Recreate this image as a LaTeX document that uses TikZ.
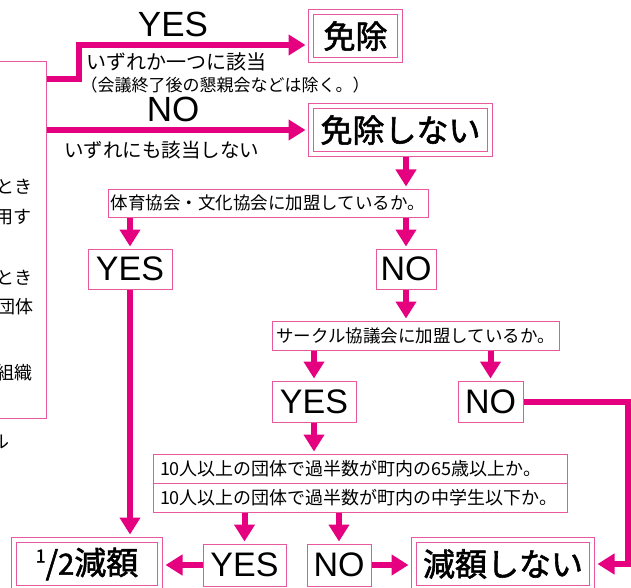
\documentclass[tikz,border=0pt]{standalone}
\usepackage{fontspec}
\setmainfont{Noto Sans CJK JP}
\newfontfamily\latinfont{Liberation Sans}
\newfontfamily\heavyjp[FakeBold=1.8]{Noto Sans CJK JP}
\usetikzlibrary{arrows.meta}
\definecolor{flowpink}{HTML}{E4007F}
\definecolor{boxpink}{HTML}{E8589C}
\tikzset{
  flow/.style={line width=6pt,draw=flowpink,-{Triangle[width=20pt,length=17pt]},shorten >=2pt},
  askbox/.style={draw=boxpink,line width=1pt,minimum height=28pt,inner sep=0pt,font=\fontsize{17.5}{17.5}\selectfont},
  rowbox/.style={draw=boxpink,line width=1pt,minimum height=29pt,inner xsep=7pt,inner ysep=0pt,text width=400pt,align=left,font=\fontsize{18}{18}\selectfont},
  ansbox/.style={draw=boxpink,line width=1pt,minimum height=40pt,inner sep=0pt,font=\latinfont\fontsize{34}{34}\selectfont},
  endbox/.style={draw=boxpink,line width=1pt,double,double distance=4pt,minimum height=48pt,inner sep=0pt,font=\heavyjp\fontsize{32}{32}\selectfont},
  toplabel/.style={inner sep=0pt,font=\latinfont\fontsize{35}{35}\selectfont},
  note/.style={inner sep=0pt,anchor=west},
  sidetext/.style={inner sep=0pt,anchor=east,font=\fontsize{18}{18}\selectfont}
}
\begin{document}
\begin{tikzpicture}[x=1pt,y=-1pt]
\useasboundingbox (0,0) rectangle (631,588);
%left panel
\node[draw=boxpink,line width=1pt,minimum width=60pt,minimum height=356pt,inner sep=0pt] (panel) at (16,240) {};
\node[sidetext] (sideA) at (33,187) {とき};
\node[sidetext] (sideB) at (32,217) {用す};
\node[sidetext] (sideC) at (33,278) {とき};
\node[sidetext] (sideD) at (34,307) {団体};
\node[sidetext] (sideE) at (33,373) {組織};
\node[sidetext] (sideF) at (10,442) {ル};
%results
\node[endbox,minimum width=89pt] (menjo) at (355.5,36) {免除};
\node[endbox,minimum width=179pt] (nomenjo) at (400.5,130) {免除しない};
\node[endbox,minimum width=146pt] (half) at (87,564) {\raisebox{12pt}{\fontsize{18}{18}\selectfont 1}/{\fontsize{29}{29}\selectfont 2}減額};
\node[endbox,minimum width=178pt] (nocut) at (503,564) {減額しない};
%questions
\node[askbox,minimum width=320pt] (kamei) at (268,203) {体育協会・文化協会に加盟しているか。};
\node[askbox,minimum width=287pt,minimum height=29pt] (circle) at (415.5,335.5) {サークル協議会に加盟しているか。};
\node[rowbox] (elder) at (360,468.5) {10人以上の団体で過半数が町内の65歳以上か。};
\node[rowbox] (youth) at (360,497.5) {10人以上の団体で過半数が町内の中学生以下か。};
%answers
\node[ansbox,minimum width=84pt] (yesA) at (130,269) {YES};
\node[ansbox,minimum width=60pt] (noA) at (406,269) {NO};
\node[ansbox,minimum width=84pt,minimum height=41pt] (yesB) at (314,401.5) {YES};
\node[ansbox,minimum width=65pt,minimum height=41pt] (noB) at (490.5,401.5) {NO};
\node[ansbox,minimum width=83pt,minimum height=42pt] (yesC) at (244.5,565) {YES};
\node[ansbox,minimum width=64pt,minimum height=42pt] (noC) at (339,565) {NO};
%labels
\node[toplabel] (yeslabel) at (173,24.5) {YES};
\node[toplabel] (nolabel) at (173,109.5) {NO};
\node[note,font=\fontsize{20}{20}\selectfont] (anyone) at (86,62) {いずれか一つに該当};
\node[note,font=\fontsize{17}{17}\selectfont] (except) at (80.5,85) {（会議終了後の懇親会などは除く。）};
\node[note,font=\fontsize{19.5}{19.5}\selectfont] (noneof) at (64,150) {いずれにも該当しない};
%arrows
\coordinate (yesbend) at (79,79);
\coordinate (yesup) at (79,45);
\coordinate (rim) at (628,404);
\draw[flow,shorten >=5pt] (panel.east |- yesbend)--(yesbend)--(yesup)--(yesup -| menjo.west);
\draw[flow,shorten >=5pt] (panel.east |- nomenjo.west)--(nomenjo.west);
\draw[flow,shorten <=3pt] (nomenjo.south -| noA)--(noA |- kamei.north);
\draw[flow] (kamei.south -| yesA)--(yesA.north);
\draw[flow] (kamei.south -| noA)--(noA.north);
\draw[flow] (noA.south)--(noA.south |- circle.north);
\draw[flow] (circle.south -| yesB)--(yesB.north);
\draw[flow] (circle.south -| noB)--(noB.north);
\draw[flow] (yesB.south)--(yesB.south |- elder.north);
\draw[flow,shorten >=5pt] (yesA.south)--(yesA.south |- half.north);
\draw[flow] (youth.south -| yesC)--(yesC.north);
\draw[flow] (youth.south -| noC)--(noC.north);
\draw[flow,shorten >=5pt] (yesC.west)--(half.east |- yesC.west);
\draw[flow,shorten >=5pt] (noC.east)--(nocut.west |- noC.east);
\draw[flow,shorten >=5pt] (noB.east)--(noB.east -| rim)--(rim |- nocut.east)--(nocut.east);
\end{tikzpicture}
\end{document}
